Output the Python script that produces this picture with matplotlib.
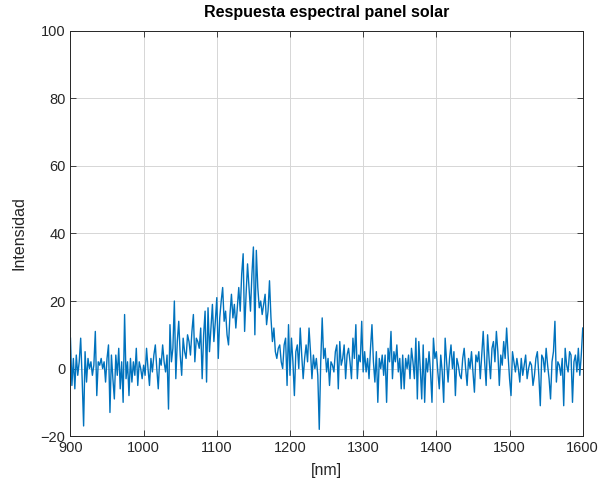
import numpy as np
import matplotlib
matplotlib.use("Agg")
import matplotlib.pyplot as plt

# wavelength grid, one sample every 2 nm
nm = np.arange(900, 1601, 2)

# intensity, 100 nm per block
seg_900 = [9, -5, 3, -6, 4, -2, 2, 9, -3, -17,
           5, -4, 3, 0, 2, -2, 1, 11, -8, 2,
           1, 3, 0, 2, -4, 3, 7, -13, 4, -3,
           -9, 4, -2, 6, -6, 2, -10, 16, -3, 2,
           -8, 3, -4, 2, -2, 6, -5, 2, 0, -3]
seg_1000 = [1, -2, 6, 0, -5, 3, -1, 4, 7, 0,
            -6, 3, 1, 7, 2, -1, 4, -12, 13, 2,
            6, 20, -3, 8, 14, 4, -2, 9, 5, 3,
            10, 8, 4, 11, 16, 2, 9, 8, 6, 12,
            -3, 10, 17, -4, 18, 5, 12, 19, 8, 14]
seg_1100 = [21, 3, 15, 20, 24, 14, 17, 10, 7, 16,
            22, 15, 19, 12, 18, 24, 17, 28, 34, 11,
            22, 31, 24, 17, 28, 36, 10, 35, 24, 18,
            20, 16, 19, 22, 13, 17, 26, 15, 8, 12,
            5, 3, 6, 7, 2, 0, 7, 9, -5, 13]
seg_1200 = [-2, 9, 2, -8, 5, 7, 0, 12, 4, -3,
            3, 7, 2, 12, 5, -3, 4, 0, 3, -2,
            -18, 2, 15, 3, 6, -1, 3, -5, 2, 1,
            -1, 5, 7, -6, 8, 1, 3, 7, -3, 4,
            6, 2, -3, 9, 3, 13, -3, 4, 2, 14]
seg_1300 = [-1, 5, -1, 3, -3, 6, 13, 2, -4, 5,
            -10, 3, 0, 4, -2, 4, -10, 6, 2, 11,
            -3, 5, 2, 7, -1, 3, -6, 4, -6, 3,
            0, 4, -3, 6, 2, -3, 9, -9, 8, 0,
            -9, 7, -10, 3, -1, 5, -1, -10, 9, 3]
seg_1400 = [5, -1, -6, 4, -1, -10, 9, 2, -4, 3,
            7, 0, 5, -8, 3, 1, -2, -3, 3, 6,
            0, -5, 3, 0, 5, -1, -7, 4, 2, 5,
            -3, 4, 11, 2, -5, 10, 3, -3, 6, 8,
            2, 11, 5, -5, 4, 1, 8, 3, 12, 4]
seg_1500 = [-3, -8, 5, 2, -1, 3, 0, -4, 3, -2,
            1, 4, -3, 0, 2, 1, -5, -2, 3, 5,
            -2, -11, 4, 3, -1, 6, 1, -3, -9, 2,
            5, 14, -4, 2, 1, -2, 3, -11, 6, 1,
            -1, 5, 4, -10, 2, 4, -1, 6, -2, 4,
            12]

intensidad = np.array(seg_900 + seg_1000 + seg_1100 + seg_1200 +
                      seg_1300 + seg_1400 + seg_1500, dtype=float)

x_ticks = [900, 1000, 1100, 1200, 1300, 1400, 1500, 1600]
y_ticks = [-20, 0, 20, 40, 60, 80, 100]

plt.rcParams['font.family'] = ['Liberation Sans', 'DejaVu Sans']
dark = '#262626'

fig = plt.figure(figsize=(6.02, 4.90), dpi=100)
ax = fig.add_axes([0.117, 0.110, 0.851, 0.827])

ax.plot(nm, intensidad, color='#0072BD', linewidth=1.0)

ax.set_xlim(900, 1600)
ax.set_ylim(-20, 100)
ax.set_xticks(x_ticks)
ax.set_yticks(y_ticks)
ax.grid(True, color='#d6d6d6', linewidth=0.7)
ax.set_axisbelow(True)
ax.tick_params(direction='in', length=4, width=0.6, colors=dark,
               labelsize=10.5, top=True, right=True,
               labeltop=False, labelright=False)
for s in ax.spines.values():
    s.set_color(dark)
    s.set_linewidth(0.7)

ax.set_title('Respuesta espectral panel solar', fontsize=11.5,
             fontweight='bold', color='black', pad=10)
ax.set_xlabel('[nm]', fontsize=11.5, color=dark, labelpad=6)
ax.set_ylabel('Intensidad', fontsize=11.5, color=dark, labelpad=10)

fig.savefig('out.png', dpi=100)
